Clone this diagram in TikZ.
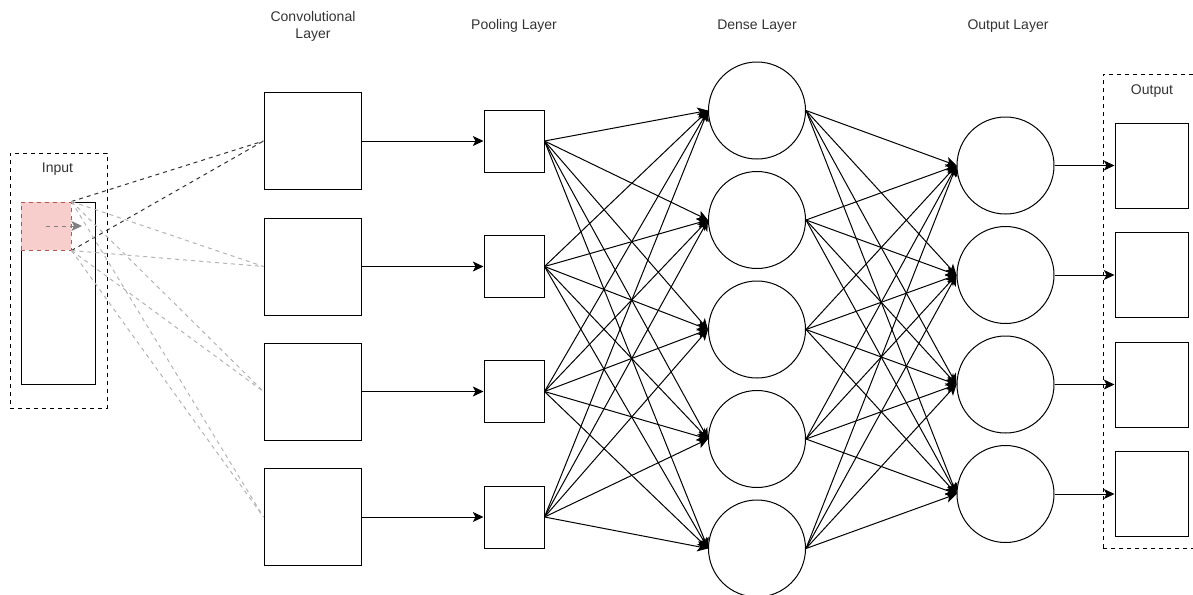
\documentclass[tikz,border=0pt]{standalone}
\usepackage{fontspec}
\setmainfont{Liberation Sans}
\usetikzlibrary{positioning,arrows.meta}

\definecolor{txtgray}{HTML}{333333}
\definecolor{patchfill}{HTML}{F8CECC}
\definecolor{patchline}{HTML}{B85450}
\definecolor{linkgray}{HTML}{B3B3B3}

\begin{document}
\begin{tikzpicture}[x=0.75pt,y=-0.75pt,
  convbox/.style={rectangle,draw,line width=0.75pt,minimum width=72.75pt,minimum height=72.75pt,inner sep=0pt},
  poolbox/.style={rectangle,draw,line width=0.75pt,minimum width=45pt,minimum height=46.5pt,inner sep=0pt},
  neuron/.style={circle,draw,line width=0.75pt,minimum size=72.75pt,inner sep=0pt},
  outbox/.style={rectangle,draw,line width=0.75pt,minimum width=54.75pt,minimum height=63.75pt,inner sep=0pt},
  group/.style={rectangle,draw,dashed,line width=0.75pt,inner sep=0pt},
  layerlabel/.style={font=\fontsize{10.5}{12.75}\selectfont,text=txtgray,align=center},
  arrow/.style={-{Stealth[length=8pt,width=7.5pt,inset=2pt]},line width=0.75pt},
  feedlink/.style={dashed,line width=0.75pt,txtgray},
  sidelink/.style={dashed,line width=0.75pt,linkgray},
]
\useasboundingbox (0,0) rectangle (1193,594);

% === INPUT ===
\node[group,minimum width=72.75pt,minimum height=191.25pt] (inbox) at (58.5,280.5) {};
\node[layerlabel] (inlabel) at (57.5,169) {Input};
\node[rectangle,draw,line width=0.75pt,minimum width=55.5pt,minimum height=136.5pt,inner sep=0pt] (inmap) at (58,293) {};
\node[rectangle,fill=patchfill,draw=patchline,dashed,line width=0.75pt,minimum width=37.5pt,minimum height=36pt,inner sep=0pt] (patch) at (46,226) {};
\coordinate (slide) at (82,226);
\draw[-{Stealth[length=8pt,width=7.5pt,inset=2pt]},dashed,line width=0.75pt,gray] (patch.center) -- (slide);

% === CONVOLUTIONAL LAYER ===
\node[layerlabel] (convlabel) at (313,26) {Convolutional\\Layer};
\node[convbox] (conv1) at (312.5,141) {};
\node[convbox] (conv2) at (312.5,266.5) {};
\node[convbox] (conv3) at (312.5,391.5) {};
\node[convbox] (conv4) at (312.5,517) {};

% receptive field of the patch
\draw[feedlink] (patch.north east) -- (conv1.west);
\draw[feedlink] (patch.south east) -- (conv1.west);
\foreach \c in {2,3,4} {
  \draw[sidelink] (patch.north east) -- (conv\c.west);
  \draw[sidelink] (patch.south east) -- (conv\c.west);
}

% === POOLING LAYER ===
\node[layerlabel] (poollabel) at (514,26) {Pooling Layer};
\node[poolbox] (pool1) at (514,141) {};
\node[poolbox] (pool2) at (514,266.5) {};
\node[poolbox] (pool3) at (514,391.5) {};
\node[poolbox] (pool4) at (514,517) {};
\foreach \p in {1,...,4}
  \draw[arrow] (conv\p.east) -- (pool\p.west);

% === DENSE LAYER ===
\node[layerlabel] (denselabel) at (757,26) {Dense Layer};
\node[neuron] (dense1) at (757,110.5) {};
\node[neuron] (dense2) at (757,220) {};
\node[neuron] (dense3) at (757,329.5) {};
\node[neuron] (dense4) at (757,439) {};
\node[neuron] (dense5) at (757,548.5) {};
\foreach \p in {1,...,4}
  \foreach \d in {1,...,5}
    \draw[arrow] (pool\p.east) -- (dense\d.west);

% === OUTPUT LAYER ===
\node[layerlabel] (outlayerlabel) at (1008,26) {Output Layer};
\node[neuron] (out1) at (1005.5,165.5) {};
\node[neuron] (out2) at (1005.5,275) {};
\node[neuron] (out3) at (1005.5,384.5) {};
\node[neuron] (out4) at (1005.5,494) {};
\foreach \d in {1,...,5}
  \foreach \o in {1,...,4}
    \draw[arrow] (dense\d.east) -- (out\o.west);

% === OUTPUT ===
\node[group,minimum width=75pt,minimum height=355.5pt] (outgroup) at (1153,311) {};
\node[layerlabel] (outlabel) at (1152,91) {Output};
\node[outbox] (res1) at (1151.5,165.5) {};
\node[outbox] (res2) at (1151.5,275) {};
\node[outbox] (res3) at (1151.5,384.5) {};
\node[outbox] (res4) at (1151.5,494) {};
\foreach \o in {1,...,4}
  \draw[arrow] (out\o.east) -- (res\o.west);

\end{tikzpicture}
\end{document}
